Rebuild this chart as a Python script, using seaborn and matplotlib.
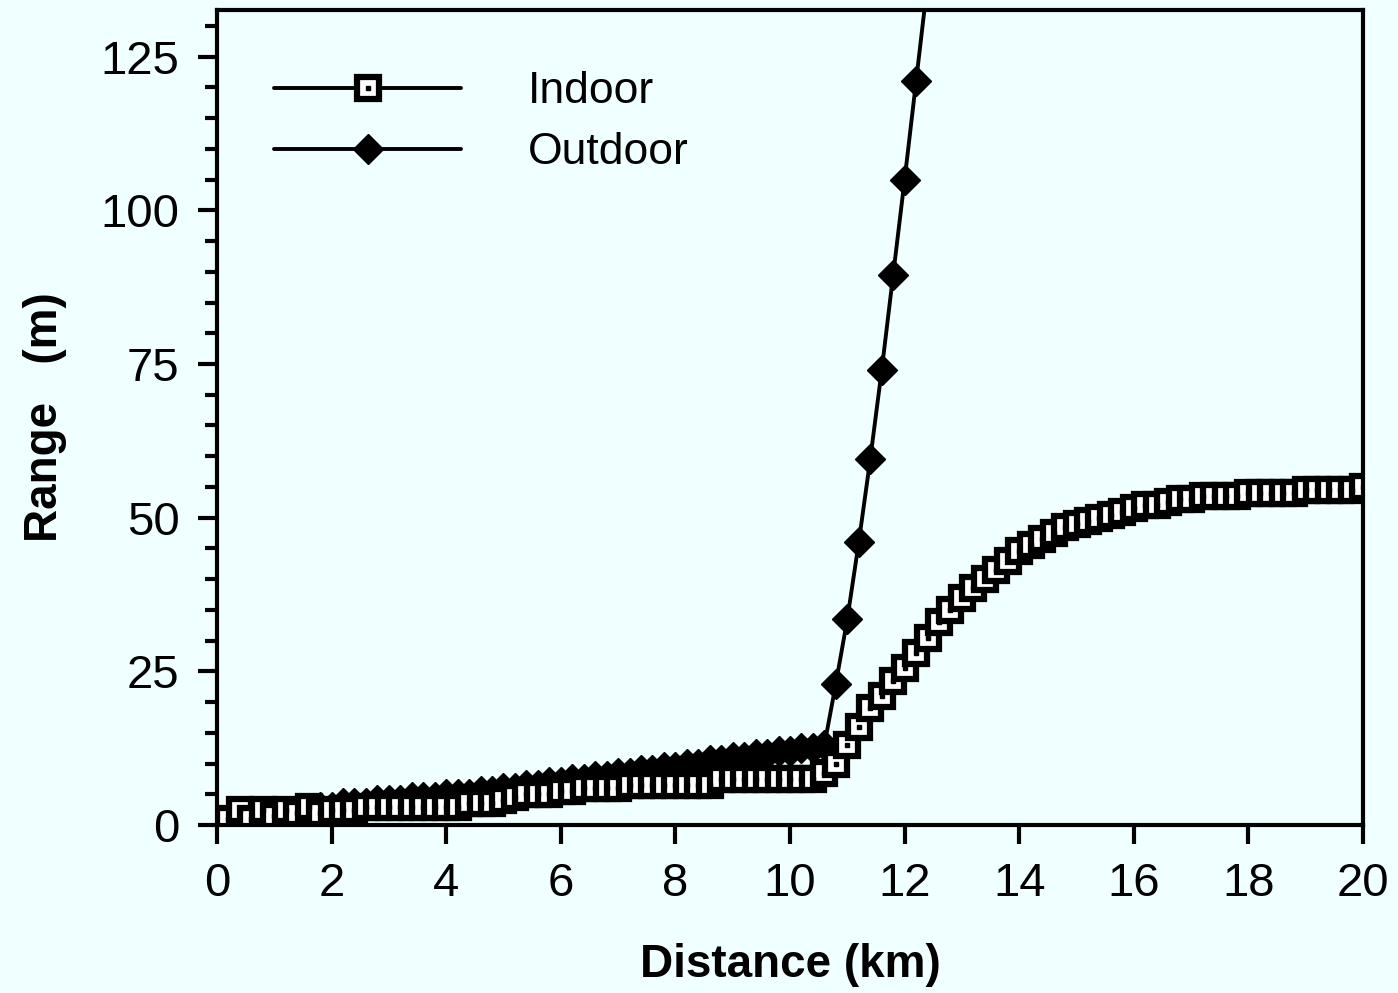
import numpy as np
import pandas as pd
import matplotlib
matplotlib.use("Agg")
import matplotlib.pyplot as plt
from matplotlib.ticker import MultipleLocator
from matplotlib.legend_handler import HandlerTuple
import seaborn as sns

# ---- data ----
indoor_x = [round(0.2 * i, 1) for i in range(101)]
indoor_y = [0, 1, 2.5, 1, 2.5, 1.5, 2.5, 2, 3, 2,            # 0.0 - 1.8
            2.5, 2.5, 2.5, 3, 3, 3, 3, 3, 3, 3,              # 2.0 - 3.8
            3, 3, 3.5, 3.5, 3.5, 4, 4.5, 5, 5, 5,            # 4.0 - 5.8
            5.5, 5.5, 6, 6, 6, 6, 6.5, 6.5, 6.5, 6.5,        # 6.0 - 7.8
            6.5, 6.5, 6.5, 6.5, 7.5, 7.5, 7.5, 7.5, 7.5, 7.5,  # 8.0 - 9.8
            7.5, 7.5, 7.5, 8.5, 10, 13, 16, 19, 21, 23.5,    # 10.0 - 11.8
            25.5, 28, 30.5, 33, 35, 37, 38.5, 40, 41.5, 43,  # 12.0 - 13.8
            44.5, 45.5, 46.5, 47.5, 48.5, 49, 49.5, 50, 50.5, 51,  # 14.0 - 15.8
            51.5, 52, 52, 52.5, 53, 53, 53.5, 53.5, 53.5, 53.5,    # 16.0 - 17.8
            54, 54, 54, 54, 54, 54.5, 54.5, 54.5, 54.5, 54.5,      # 18.0 - 19.8
            55]                                                     # 20.0

outdoor_x = [round(0.2 * i, 1) for i in range(63)]
outdoor_y = [0, 0.5, 0.5, 1, 1, 1.5, 2, 2, 2.5, 3,           # 0.0 - 1.8
             3, 3.5, 3.5, 3.5, 4, 4, 4, 4.5, 4.5, 4.5,       # 2.0 - 3.8
             5, 5, 5, 5.5, 5.5, 6, 6, 6.5, 6.5, 7,           # 4.0 - 5.8
             7, 7.5, 7.5, 8, 8, 8.5, 8.5, 9, 9, 9.5,         # 6.0 - 7.8
             9.5, 10, 10, 10.5, 10.5, 11, 11, 11.5, 11.5, 12,  # 8.0 - 9.8
             12, 12.5, 12.5, 13, 23, 33.5, 46, 59.5, 74, 89.5,  # 10.0 - 11.8
             105, 121, 137]                                      # 12.0 - 12.4

x_ticks = [0, 2, 4, 6, 8, 10, 12, 14, 16, 18, 20]
y_ticks = [0, 25, 50, 75, 100, 125]

indoor = pd.DataFrame({"Distance": indoor_x, "Range": indoor_y})
outdoor = pd.DataFrame({"Distance": outdoor_x, "Range": outdoor_y})

# ---- style ----
bg = "#F0FFFF"
sns.set_theme(style="ticks")
plt.rcParams["font.family"] = ["Liberation Sans", "DejaVu Sans"]
plt.rcParams["axes.linewidth"] = 3
plt.rcParams["text.color"] = "black"
plt.rcParams["axes.labelcolor"] = "black"
plt.rcParams["xtick.color"] = "black"
plt.rcParams["ytick.color"] = "black"

fig = plt.figure(figsize=(13.98, 9.93), dpi=100, facecolor=bg)
ax = fig.add_axes([0.1552, 0.1692, 0.8198, 0.8207])
ax.set_facecolor(bg)

sns.lineplot(data=outdoor, x="Distance", y="Range", ax=ax, color="black",
             linewidth=2.8, marker="D", markersize=15, markerfacecolor="black",
             markeredgecolor="black", markeredgewidth=1, label="Outdoor",
             sort=False, estimator=None, legend=False)
sns.lineplot(data=indoor, x="Distance", y="Range", ax=ax, color="black",
             linewidth=2.8, marker="s", markersize=16.5, markerfacecolor="white",
             markeredgecolor="black", markeredgewidth=4.5, label="Indoor",
             sort=False, estimator=None, legend=False)
ax.plot(indoor["Distance"], indoor["Range"], linestyle="none", marker="s",
        markersize=3, color="black")

l_out = ax.lines[0]
l_in = ax.lines[1]
l_dot = ax.lines[2]

ax.set_xlim(0, 20)
ax.set_ylim(0, 132.6)
ax.set_xticks(x_ticks)
ax.set_xticklabels([str(v) for v in x_ticks])
ax.set_yticks(y_ticks)
ax.set_yticklabels([str(v) for v in y_ticks])
ax.yaxis.set_minor_locator(MultipleLocator(5))

ax.tick_params(axis="both", which="major", direction="out", length=14,
               width=3, labelsize=34, pad=13, colors="black")
ax.tick_params(axis="y", which="minor", direction="out", length=9, width=3)
ax.tick_params(axis="x", which="minor", length=0)
ax.tick_params(top=False, right=False)
for s in ax.spines.values():
    s.set_visible(True)
    s.set_color("black")
    s.set_linewidth(3)

ax.set_xlabel("Distance (km)", fontsize=33, fontweight="bold", labelpad=26)
ax.set_ylabel("Range   (m)", fontsize=33, fontweight="bold", labelpad=24)

leg = ax.legend(handles=[(l_in, l_dot), l_out], labels=["Indoor", "Outdoor"],
                handler_map={tuple: HandlerTuple(ndivide=1)},
                loc="upper left", bbox_to_anchor=(0.05, 0.925), frameon=False,
                fontsize=32, handlelength=4.2, handletextpad=1.5,
                labelspacing=0.45, borderpad=0, borderaxespad=0, markerscale=1.0)

fig.savefig("out.png", dpi=100, facecolor=bg)
